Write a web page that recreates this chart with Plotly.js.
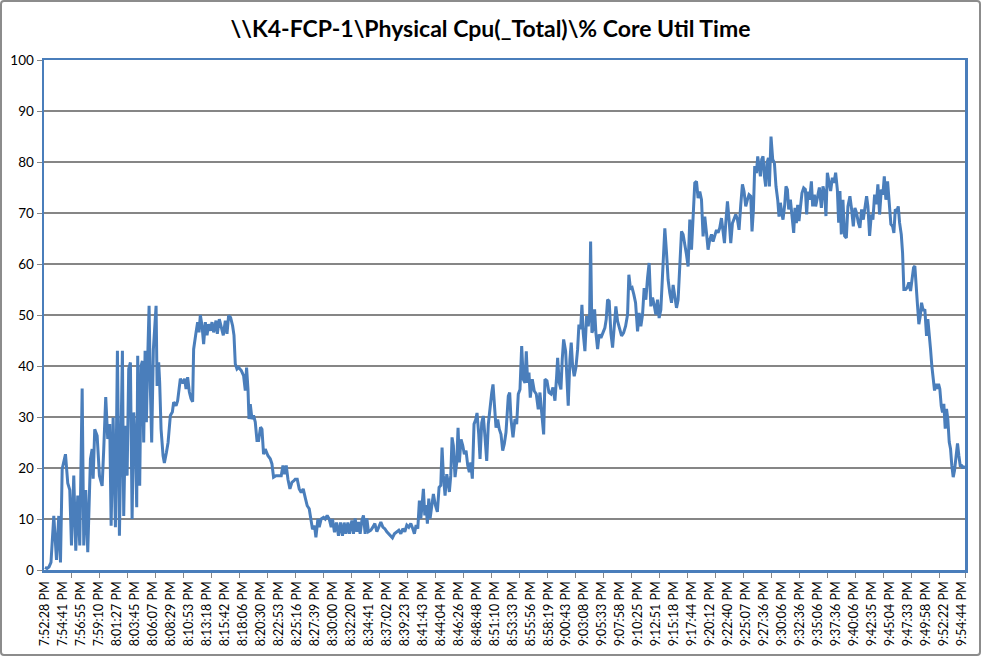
<!DOCTYPE html>
<html>
<head>
<meta charset="utf-8">
<script src="https://cdn.plot.ly/plotly-3.0.1.min.js"></script>
<style>
  html, body { margin: 0; padding: 0; background: #fff; }
  #wrap { position: relative; width: 981px; height: 656px; }
  #chart { width: 981px; height: 656px; }
  #frame { position: absolute; left: 0; top: 0; width: 977px; height: 652px;
           border: 2px solid #8c8c8c; border-radius: 4px; pointer-events: none; }
</style>
</head>
<body>
<div id="wrap"><div id="chart"></div><div id="frame"></div></div>
<script>
// sample index (category position) of each reading
const samples = [
0,1,2,3,4.4,5.75,6.9,7.75,8.6,10.25,11.4,12.4,13.25,14.4,15.4,16.4,17.4,18.6,19.4,20.4,
21.4,22.75,23.6,24.1,24.9,26.1,27.25,28.6,29.4,30.4,31.4,32.4,33.1,34.1,35.25,36.25,37.25,38.1,38.75,39.4,
40.25,41.1,41.9,42.75,43.6,44.4,45.4,45.9,46.4,47.4,48.1,48.75,49.4,50.1,50.75,51.4,52.1,52.75,53.4,54.25,
55.1,55.6,56.1,56.9,57.4,58.1,59.1,59.75,60.75,61.6,62.75,63.75,64.4,65.6,66.4,67.75,69.1,69.9,70.6,71.4,
72.25,73.1,73.9,74.4,75.6,76.4,77.1,77.75,78.6,79.4,80.25,81.1,81.9,82.75,83.6,84.4,85.6,86.25,87.25,88.25,
89.25,90.25,91.1,91.9,92.9,93.9,94.6,95.25,96.1,96.9,98.25,99.4,100.25,100.9,101.6,102.1,102.75,103.6,104.4,105.25,
106.1,106.9,107.9,108.6,109.4,110.25,111.6,112.75,113.6,114.4,115.6,116.9,118.25,119.1,119.9,120.75,121.6,122.6,123.6,124.6,
125.25,126.25,127.25,128.25,129.25,130.25,131.25,132.25,133.25,133.9,134.9,135.6,136.6,137.25,138.25,139.4,140.25,141.25,142.25,143.25,
143.9,144.9,145.9,146.9,147.9,148.9,149.75,150.6,151.6,152.4,153.6,154.4,155.25,156.1,156.9,157.75,158.6,159.4,160.25,161.1,
161.9,163.1,164.1,165.1,166.1,167.1,168.1,169.1,170.1,171.1,172.1,173.1,173.9,174.9,176.1,177.1,178.1,179.1,180.1,181.1,
182.1,183.1,184.1,184.9,185.75,186.6,187.4,188.1,188.75,189.4,190.1,190.75,191.4,192.1,192.75,193.6,194.4,195.4,196.4,197.25,
198.1,198.75,199.4,200.25,201.1,201.75,202.4,203.1,203.75,204.4,205.25,206.1,206.75,207.4,208.25,209.1,209.9,210.75,211.6,212.4,
213.1,213.9,214.75,215.6,216.25,217.1,217.75,218.6,219.4,220.25,221.1,221.9,222.75,223.6,224.25,224.9,225.75,226.6,227.4,228.25,
229.1,229.9,230.75,231.9,232.6,233.25,234.25,235.25,236.1,236.9,237.75,238.6,239.4,240.25,240.9,241.6,242.25,242.9,243.9,244.9,
245.9,246.9,247.75,248.6,249.6,250.25,251.25,252.25,253.25,254.25,255.25,256.1,256.6,257.4,258.25,258.9,259.6,260.6,261.4,261.9,
262.75,263.4,264.1,264.9,265.75,266.6,267.25,268.1,268.75,269.4,270.25,271.1,271.9,272.6,273.1,273.75,274.4,275.1,275.75,276.6,
277.4,278.25,279.25,280.25,280.9,281.6,282.4,283.25,284.1,284.9,285.75,286.6,287.75,288.6,289.6,290.6,291.6,292.25,293.1,293.9,
294.75,295.6,296.6,297.4,298.25,299.1,299.9,300.75,301.6,302.4,303.25,304.1,304.9,305.75,306.6,307.4,308.25,309.1,309.75,310.25,
311.1,311.9,312.75,313.6,314.4,315.25,316.1,316.9,317.75,318.6,319.4,320.25,321.1,321.9,322.75,323.6,324.4,325.25,326.1,326.9,
327.75,328.6,329.4,330.25,331.1,331.9,332.75,333.6,334.4,335.25,336.1,336.9,337.75,338.6,339.4,340.1,340.75,341.6,342.4,343.25,
344.1,344.9,345.75,346.6,347.4,348.25,349.1,349.9,350.75,351.6,352.4,353.25,353.9,354.6,355.25,356.1,356.75,357.4,358.1,358.75,
359.4,360.1,360.75,361.4,362.1,362.6,363.4,364.25,365.1,365.9,366.75,367.4,368.1,368.75,369.4,370.25,370.9,371.6,372.25,373.1,
373.9,374.75,375.4,376.1,376.75,377.4,378.1,378.9,379.75,380.6,381.25,381.9,382.75,383.6,384.25,385.1,385.75,386.6,387.6,388.6,
389.4,390.25,390.9,391.6,392.4,393.25,394.1,394.9,395.75,396.6,397.25,397.9,398.6,399.4,400.25,401.1,401.9,402.9,403.75,404.6,
405.4,406.25,407.1,407.9,408.75,409.6,410.4,411.25,411.9,412.75,413.6,414.4,415.25,416.1,416.9,417.75,418.6,419.4,420.1,420.9,
421.75,422.6,423.4,424.25,424.9,425.6,426.4,427.1,427.75,428.6,429.25,429.9,430.75,431.6,432.4,433.25,433.9,434.75,435.4,436.1,
436.75,437.4,438.1,438.75,439.6,440.4,441.25,441.9,442.6,443.25,443.9,444.6,445.25,445.9,446.6,447.25,447.9,448.6,449.25,449.9,
450.6,451.25,451.9,452.6,453.25,453.9,454.6,455.25,456.1,456.75,457.4,458.1,458.75,459.4,460
];

// % Core Util Time readings
const coreUtil = [
0.5,0.3,0.6,1.5,10.6,2,10.6,1.5,19.8,22.7,17,15.7,4.8,18.5,3.8,14.6,4.8,35.6,4.8,15.7,
3.5,21.8,23.7,17.9,27.6,26.3,18.5,16.5,23.7,33.9,25.7,28.6,8.7,29.9,8.4,43,6.7,28.9,43,10.6,
28.3,18.5,39.4,40.7,10,30.9,22.4,12.3,42,16.5,40,41,25,43,29,41.4,51.8,35.5,25,43.3,
47.8,51.8,36.1,40.7,36.8,27.6,22.4,21,23,25,30.3,31,32.9,32.2,33.2,37.5,36.6,37.5,35.5,37.8,
34.9,33.6,33,43.3,46.6,48.6,46.6,50,47.9,44.3,48.6,46,48.2,46.9,48.6,46.6,48.9,46.3,49.2,47.3,
46,48.9,46.3,49.9,49.5,47.9,46,40.4,39.4,39.7,39.1,38.1,35.2,39.7,35.5,29.6,32.5,29.6,30.3,29,
25.4,25.4,28,27.6,22.7,23.7,22.4,21.8,20.8,18.2,18.5,18.5,18.5,20.5,18.8,20.5,17.8,15.9,17.2,17.5,
17.8,17.8,15.9,15.2,15.9,14.2,12.6,12,10,8,8.7,6.4,10,8.4,10,10.3,10,10.7,10,8.4,
10,7.4,9.3,6.7,9.3,6.7,9.3,7.1,9.3,7.1,9.7,7.1,10.1,7.5,9.4,7.1,9.7,10.7,7.1,10.1,
7.5,7.8,8.4,9.1,7.5,8.4,9.4,8.4,8.1,7.5,7.1,6.8,6.3,7.1,7.5,7.8,7.1,8.1,7.5,8.8,
8.4,9.1,8.1,7.1,8.8,8.1,13.6,10.1,12.7,15.9,10.7,12.7,9.1,14,10.1,13.3,14.9,12.7,11.4,16.2,
16.6,24,18.5,14.6,18.8,17.2,15.3,18.5,26,24.4,18.2,21.1,27.9,21.1,25.6,24.4,22.7,23.4,20.5,19.2,
21.1,17.9,28.6,29.5,30.8,26.6,21.8,28.9,30.2,26,21.4,28.6,32.1,34.7,36.4,33.4,27.9,29.5,27.6,26.6,
23.4,24.7,27,34.1,34.8,29.6,26,29.6,28.6,34.5,35.4,43.9,37.4,36.7,42.9,36.7,38.7,33.8,37.4,35.1,
34.5,31.5,34.8,30.9,26.6,37.4,37.1,34.8,34.5,35.8,33.2,38,41.6,36.7,35.4,41.3,45.2,42.9,37.4,32.2,
41.3,44.6,40,38,39.7,43.3,48.1,47.2,52,46.5,42.9,49.8,47.8,50.1,64.4,46.5,47.2,51.1,46.5,43.3,
46.2,45.5,46.5,47.5,49.1,53,52.7,46.5,43.6,48.5,51.7,48.8,46.8,45.9,46.5,47.8,50.1,57.9,55,55.3,
54,52.4,46.8,50.4,47.8,50.1,55.3,53,57.3,60.2,51.7,53.4,52,50.1,53,49.4,51,57,63,67,
62.2,56.9,54.3,52.4,55.9,53.7,51.4,53,59.5,66.4,65.8,64.1,61.8,59.5,68.7,62.8,68,75.9,76.2,72.9,
74.2,72.6,65.4,69.3,66.1,62.8,64.8,65.8,64.4,65.8,66.7,66.1,67.1,69,66.4,64.1,68,72.3,68.7,64.1,
68,69,69.7,68.7,66.7,71.6,75.6,74.2,71.3,72.6,73.6,73.3,66.4,70.7,79.2,77.8,81.1,79.2,77.2,80.5,
81.1,77.2,75.2,79.8,80.8,75.2,85,80.5,79.8,75.2,72.6,69.3,72,70,68.7,71.6,75.2,74.6,70.7,72.6,
69.3,66.1,71,68,71.6,68.4,71,73.9,74.9,74.6,69.7,74.2,72.6,76.2,71.3,73.6,71.3,72.9,75,71,
75.2,73.9,69.4,77.9,76.2,74.3,76.9,75.9,77.9,74.6,68.1,74.3,65.8,72.6,65.5,65.1,71.3,73.3,70.7,67.4,
71,70,68.1,67.1,70.7,68.7,71,73.3,71.3,65.5,69.7,68.7,73.6,71.7,75.6,69.7,74.6,73.6,77.2,72.6,
76.2,72.6,67.8,67.4,66.1,70.7,70.4,71.3,68.1,65.8,62.2,55,55,55.4,56.4,54.7,57,59.3,59.6,56.4,
51.8,48.2,49.8,52.4,50.8,51.1,45.9,49.2,46.6,43.3,40,37.4,35.2,36.5,35.5,36.5,35.5,32.2,30.9,32.6,
27.7,31.6,29.6,25.1,23.8,20.5,18.2,19.5,22.8,24.8,22.5,20.5,20.5,19.9,20.5
];

// category labels shown on the x axis (every 9th sample)
const timeLabels = [
"7:52:28 PM","7:54:41 PM","7:56:55 PM","7:59:10 PM","8:01:27 PM","8:03:45 PM","8:06:07 PM","8:08:29 PM",
"8:10:53 PM","8:13:18 PM","8:15:42 PM","8:18:06 PM","8:20:30 PM","8:22:53 PM","8:25:16 PM","8:27:39 PM",
"8:30:00 PM","8:32:20 PM","8:34:41 PM","8:37:02 PM","8:39:23 PM","8:41:43 PM","8:44:04 PM","8:46:26 PM",
"8:48:48 PM","8:51:10 PM","8:53:33 PM","8:55:56 PM","8:58:19 PM","9:00:43 PM","9:03:08 PM","9:05:33 PM",
"9:07:58 PM","9:10:25 PM","9:12:51 PM","9:15:18 PM","9:17:44 PM","9:20:12 PM","9:22:40 PM","9:25:07 PM",
"9:27:36 PM","9:30:06 PM","9:32:36 PM","9:35:06 PM","9:37:36 PM","9:40:06 PM","9:42:35 PM","9:45:04 PM",
"9:47:33 PM","9:49:58 PM","9:52:22 PM","9:54:44 PM"
];
const labelEvery = 9;
const markEvery = 14;
const lastSample = 460;

const tickvals = timeLabels.map((_, k) => k * labelEvery);
const minorVals = [];
for (let v = markEvery - 0.5; v < lastSample; v += markEvery) minorVals.push(v);
minorVals.push(lastSample + 0.5);

const blue = '#4a7ebb';
const grey = '#868686';
const font = 'Lato, "Open Sans", sans-serif';

const trace = {
  x: samples, y: coreUtil, type: 'scatter', mode: 'lines',
  line: { color: blue, width: 3 }, hoverinfo: 'skip', showlegend: false
};

const layout = {
  width: 981, height: 656,
  margin: { l: 44, r: 16, t: 60, b: 86, pad: 0 },
  paper_bgcolor: '#fff', plot_bgcolor: '#fff',
  title: {
    text: '<b>\\\\K4-FCP-1\\Physical Cpu(_Total)\\% Core Util Time</b>',
    font: { family: font, size: 23, color: '#000', weight: 900 },
    x: 0.5, xanchor: 'center', y: 1 - 29/656, yanchor: 'middle'
  },
  xaxis: {
    range: [-0.5, lastSample + 0.5],
    tickmode: 'array', tickvals: tickvals, ticktext: timeLabels,
    tickangle: -90, ticks: '', ticklabelstandoff: 4,
    tickfont: { family: font, size: 12.5, color: '#000' },
    showgrid: false, zeroline: false,
    showline: true, mirror: true, linecolor: blue, linewidth: 2.5,
    minor: { tickmode: 'array', tickvals: minorVals, ticks: 'outside', ticklen: 5,
             tickcolor: grey, tickwidth: 1, showgrid: false }
  },
  yaxis: {
    range: [0, 100], tickmode: 'linear', tick0: 0, dtick: 10,
    ticks: 'outside', ticklen: 5, tickcolor: grey, tickwidth: 1,
    tickfont: { family: font, size: 13.5, color: '#000' },
    showgrid: true, gridcolor: grey, gridwidth: 1.6, zeroline: false,
    showline: true, mirror: true, linecolor: blue, linewidth: 2.5
  }
};

Plotly.newPlot('chart', [trace], layout, { staticPlot: true, displayModeBar: false });
</script>
</body>
</html>
